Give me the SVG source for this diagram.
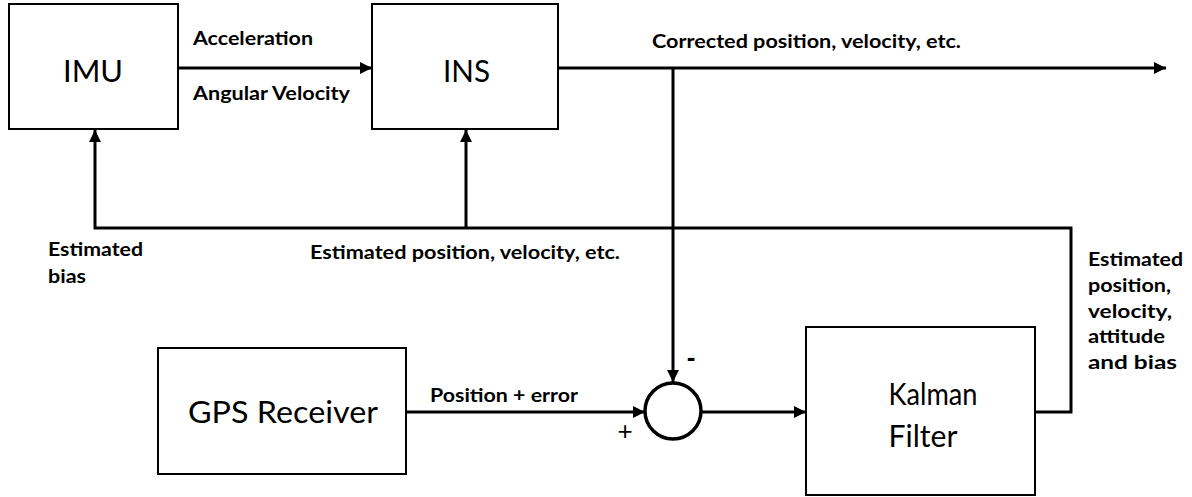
<svg xmlns="http://www.w3.org/2000/svg" width="1192" height="497" viewBox="0 0 1192 497">
<style>
.box{fill:#fff;stroke:#000;stroke-width:2}
.big{font-family:Lato,"Open Sans","Liberation Sans",sans-serif;font-size:31px;fill:#000}
.lbl{font-family:Lato,"Open Sans","Liberation Sans",sans-serif;font-size:18.5px;font-weight:bold;fill:#000}
.sign{font-family:"Liberation Sans",sans-serif;fill:#000}
.wire{fill:none;stroke:#000;stroke-width:3}
</style>
<defs>
<marker id="ah" viewBox="0 0 12 12" refX="12" refY="6" markerWidth="12" markerHeight="12" markerUnits="userSpaceOnUse" orient="auto">
<path d="M0,0 L12,6 L0,12 Z" fill="#000"/>
</marker>
</defs>
<rect width="1192" height="497" fill="#fff"/>
<g id="connectors">
<line class="wire" x1="178" y1="68" x2="372" y2="68" marker-end="url(#ah)"/>
<line class="wire" x1="558" y1="68" x2="1166" y2="68" marker-end="url(#ah)"/>
<line class="wire" x1="673" y1="68" x2="673" y2="382" marker-end="url(#ah)"/>
<line class="wire" x1="406" y1="412" x2="645" y2="412" marker-end="url(#ah)"/>
<line class="wire" x1="702" y1="412" x2="806" y2="412" marker-end="url(#ah)"/>
<polyline class="wire" points="1035,412 1071,412 1071,228 95,228 95,130" marker-end="url(#ah)"/>
<line class="wire" x1="466" y1="228" x2="466" y2="130" marker-end="url(#ah)"/>
<text class="lbl" x="193" y="45" textLength="120" lengthAdjust="spacingAndGlyphs">Acceleration</text>
<text class="lbl" x="193" y="100" textLength="157" lengthAdjust="spacingAndGlyphs">Angular Velocity</text>
<text class="lbl" x="652" y="48" textLength="309" lengthAdjust="spacingAndGlyphs">Corrected position, velocity, etc.</text>
<text class="lbl" x="48" y="256" textLength="95" lengthAdjust="spacingAndGlyphs">Estimated</text>
<text class="lbl" x="48" y="283" textLength="38" lengthAdjust="spacingAndGlyphs">bias</text>
<text class="lbl" x="310" y="259" textLength="310" lengthAdjust="spacingAndGlyphs">Estimated position, velocity, etc.</text>
<text class="lbl" x="430" y="402" textLength="148" lengthAdjust="spacingAndGlyphs">Position + error</text>
<text class="lbl" x="1088" y="266" textLength="95" lengthAdjust="spacingAndGlyphs">Estimated</text>
<text class="lbl" x="1088" y="292" textLength="83" lengthAdjust="spacingAndGlyphs">position,</text>
<text class="lbl" x="1088" y="318" textLength="84" lengthAdjust="spacingAndGlyphs">velocity,</text>
<text class="lbl" x="1088" y="343" textLength="77" lengthAdjust="spacingAndGlyphs">attitude</text>
<text class="lbl" x="1088" y="369" textLength="89" lengthAdjust="spacingAndGlyphs">and bias</text>
<text class="sign" x="691" y="366" text-anchor="middle" style="font-size:26px;font-weight:bold">-</text>
<text class="sign" x="625" y="440" text-anchor="middle" style="font-size:26px">+</text>
</g>
<g id="imu">
<rect class="box" x="9" y="4" width="169" height="125"/>
<text class="big" x="93" y="82" text-anchor="middle" textLength="60" lengthAdjust="spacingAndGlyphs">IMU</text>
</g>
<g id="ins">
<rect class="box" x="372" y="4" width="186" height="125"/>
<text class="big" x="466.5" y="82" text-anchor="middle" textLength="47" lengthAdjust="spacingAndGlyphs">INS</text>
</g>
<g id="gps">
<rect class="box" x="158" y="348" width="248" height="126"/>
<text class="big" x="283" y="423" text-anchor="middle" textLength="190" lengthAdjust="spacingAndGlyphs">GPS Receiver</text>
</g>
<g id="sum">
<circle cx="673" cy="411" r="28" fill="#fff" stroke="#000" stroke-width="3.5"/>
</g>
<g id="kalman">
<rect class="box" x="806" y="327" width="229" height="168"/>
<text class="big" x="933" y="405" text-anchor="middle" textLength="89" lengthAdjust="spacingAndGlyphs">Kalman</text>
<text class="big" x="923" y="447" text-anchor="middle" textLength="69" lengthAdjust="spacingAndGlyphs">Filter</text>
</g>
</svg>
